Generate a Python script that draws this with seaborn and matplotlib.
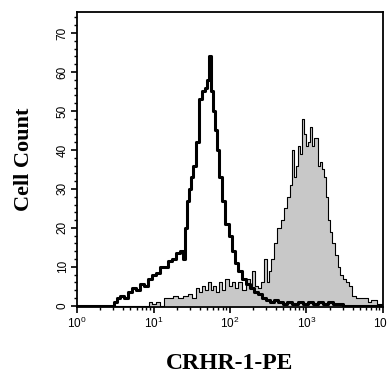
import numpy as np
import pandas as pd
import matplotlib
matplotlib.use("Agg")
import matplotlib.pyplot as plt
import matplotlib.ticker as mticker
import seaborn as sns

# ---- data (log10 of fluorescence channel, cell count) ----
control_log = [0.00, 0.46, 0.50, 0.54, 0.59, 0.64, 0.69, 0.75, 0.80, 0.85, 0.90, 0.95,
               1.01, 1.06, 1.11, 1.16, 1.22, 1.27, 1.32, 1.36, 1.40, 1.42, 1.45, 1.48,
               1.50, 1.54, 1.58, 1.61, 1.65, 1.69, 1.71, 1.74, 1.76, 1.79, 1.82, 1.84,
               1.88, 1.92, 1.96, 2.00, 2.04, 2.08, 2.13, 2.18, 2.24, 2.29, 2.34, 2.39,
               2.44, 2.50, 2.55, 2.60, 2.65, 2.72, 2.78, 2.85, 2.92, 2.98, 3.05, 3.11,
               3.18, 3.24, 3.31, 3.37, 3.44, 3.50, 4.00]
control_count = [0, 0, 1, 2, 2.5, 2, 3.5, 4.5, 4, 5.5, 5, 7,
                 8, 8.5, 10, 10, 11.5, 12, 13.5, 14, 12, 20, 27, 30,
                 33, 36, 42, 53, 55, 56, 58, 64, 55, 50, 45, 40,
                 33, 27, 21, 18, 14, 11, 9, 7, 5.5, 4.5, 3.5, 3,
                 2, 1.5, 1, 1.5, 1, 0.5, 1, 0.5, 1, 0.5, 1, 0.5,
                 1, 0.5, 1, 0.5, 0.5, 0, 0]

crhr_log = [0.00, 0.93, 0.95, 1.01, 1.06, 1.11, 1.16, 1.22, 1.28, 1.35, 1.41, 1.48,
            1.53, 1.57, 1.61, 1.65, 1.69, 1.73, 1.76, 1.80, 1.84, 1.88, 1.92, 1.96,
            2.00, 2.04, 2.08, 2.13, 2.18, 2.24, 2.27, 2.31, 2.35, 2.39, 2.43, 2.46,
            2.50, 2.52, 2.56, 2.60, 2.64, 2.68, 2.72, 2.76, 2.80, 2.82, 2.85, 2.88,
            2.90, 2.93, 2.95, 2.98, 3.01, 3.03, 3.06, 3.08, 3.11, 3.14, 3.16, 3.19,
            3.22, 3.24, 3.27, 3.29, 3.32, 3.35, 3.39, 3.42, 3.46, 3.50, 3.54, 3.58,
            3.62, 3.67, 3.73, 3.78, 3.82, 3.86, 3.90, 3.93, 3.97, 4.00]
crhr_count = [0, 0, 1, 0.5, 1, 0, 2, 2, 2.5, 2, 2.5, 3,
              2, 4.5, 3.5, 5, 4, 6, 4, 5, 3.5, 6, 4, 7,
              5, 6, 4.5, 6, 4, 7, 5, 9, 5, 4.5, 6, 12,
              6, 9, 12, 16, 20, 22, 25, 28, 31, 40, 33, 36,
              41, 39, 48, 44, 41, 42, 46, 41, 43, 43, 36, 37,
              35, 33, 28, 22, 19, 16, 13, 10, 8, 7, 6, 5,
              2.5, 2, 2, 2, 1, 1.5, 1.5, 0.5, 0.5, 0]

y_ticks = [0, 10, 20, 30, 40, 50, 60, 70]
x_tick_labels = [r"$\mathregular{10^{0}}$", r"$\mathregular{10^{1}}$",
                 r"$\mathregular{10^{2}}$", r"$\mathregular{10^{3}}$",
                 r"$\mathregular{10^{4}}$"]

ctrl = pd.DataFrame({"x": np.power(10.0, control_log), "count": control_count})
crhr = pd.DataFrame({"x": np.power(10.0, crhr_log), "count": crhr_count})

sns.set_style("ticks")
plt.rcParams["font.family"] = ["Liberation Sans", "DejaVu Sans"]
plt.rcParams["mathtext.fontset"] = "custom"
plt.rcParams["mathtext.rm"] = "Liberation Sans"
for k in ["text.color", "axes.labelcolor", "xtick.color", "ytick.color", "axes.edgecolor"]:
    plt.rcParams[k] = "black"

fig = plt.figure(figsize=(3.87, 3.74), dpi=100)
ax = fig.add_axes([77 / 387, 1 - 307 / 374, (383 - 77) / 387, (307 - 12) / 374])

ax.set_xscale("log")
ax.fill_between(crhr["x"], crhr["count"], step="mid", color="#c8c8c8", linewidth=0, zorder=1)
sns.lineplot(data=crhr, x="x", y="count", ax=ax, color="black", linewidth=0.8,
             drawstyle="steps-mid", zorder=2)
sns.lineplot(data=ctrl, x="x", y="count", ax=ax, color="black", linewidth=2.2,
             drawstyle="steps-mid", zorder=3)

ax.set_xlim(1, 1e4)
ax.set_ylim(-0.3, 75.4)

ax.set_yticks(y_ticks)
ax.set_yticklabels([str(v) for v in y_ticks], rotation=90, va="center", fontsize=8.5)
ax.yaxis.set_minor_locator(mticker.MultipleLocator(2))

ax.xaxis.set_major_locator(mticker.FixedLocator([1, 10, 100, 1000, 10000]))
ax.set_xticklabels(x_tick_labels, fontsize=8.5)
ax.xaxis.set_minor_locator(mticker.LogLocator(base=10, subs=np.arange(2, 10)))
ax.xaxis.set_minor_formatter(mticker.NullFormatter())

ax.tick_params(axis="both", which="major", direction="out", length=4, width=1.2, colors="black", pad=2)
ax.tick_params(axis="both", which="minor", direction="out", length=2.5, width=1.0, colors="black")

for s in ax.spines.values():
    s.set_visible(True)
    s.set_color("black")
    s.set_linewidth(1.3)

ax.set_xlabel("CRHR-1-PE", fontsize=17, fontweight="bold", family="Liberation Serif",
              labelpad=16, color="black")
ax.set_ylabel("Cell Count", fontsize=16, fontweight="bold", family="Liberation Serif",
              labelpad=16, color="black")

fig.savefig("out.png", dpi=100)
